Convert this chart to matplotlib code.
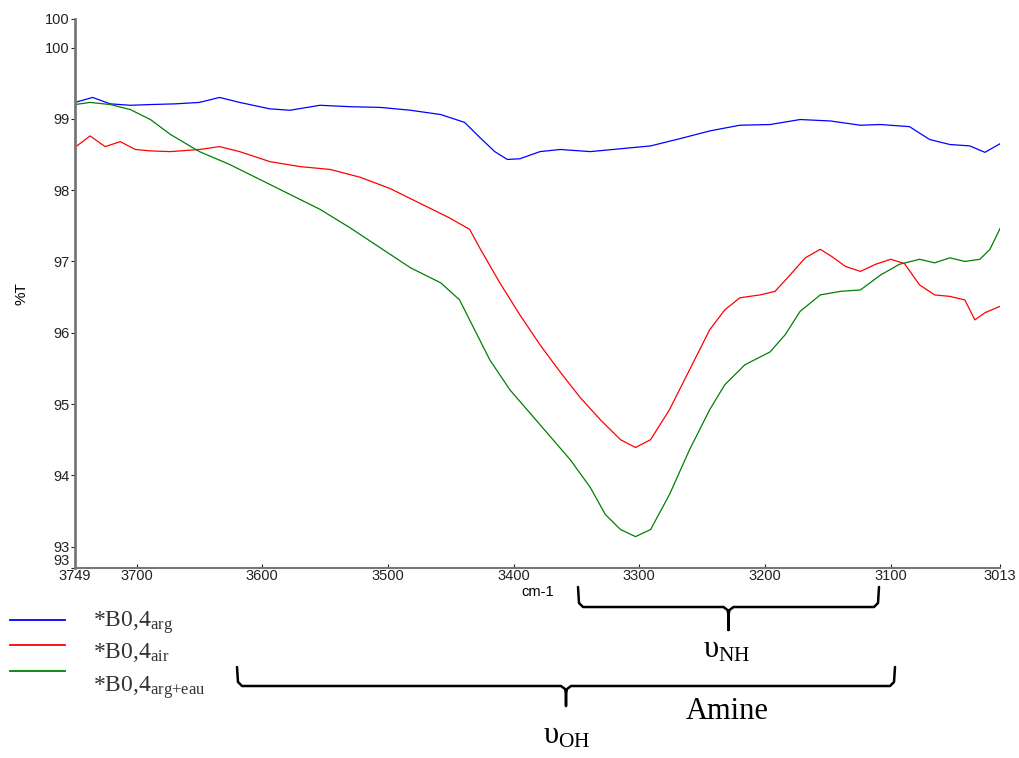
"Spectre IR - B0,4 (arg / air / arg+eau)"

import matplotlib
matplotlib.use('Agg')
import matplotlib.pyplot as plt

plt.rcParams['font.family'] = ['Liberation Sans', 'DejaVu Sans']
plt.rcParams['mathtext.fontset'] = 'custom'
plt.rcParams['mathtext.rm'] = 'Liberation Serif'
plt.rcParams['mathtext.it'] = 'Liberation Serif:italic'

nu_arg = [3749, 3735, 3721, 3705, 3689, 3669, 3650, 3634, 3618, 3594, 3578, 3554, 3530,
          3506, 3482, 3458, 3439, 3427, 3415, 3405, 3395, 3379, 3363, 3339, 3315, 3291,
          3268, 3244, 3220, 3196, 3172, 3148, 3124, 3108, 3085, 3069, 3053, 3037, 3025, 3013]
T_arg = [99.23, 99.30, 99.21, 99.19, 99.20, 99.21, 99.23, 99.30, 99.23, 99.14, 99.12, 99.19, 99.17,
         99.16, 99.12, 99.06, 98.95, 98.74, 98.54, 98.43, 98.44, 98.54, 98.57, 98.54, 98.58, 98.62,
         98.72, 98.83, 98.91, 98.92, 98.99, 98.97, 98.91, 98.92, 98.89, 98.71, 98.64, 98.62, 98.53, 98.65]

nu_air = [3749, 3737, 3725, 3713, 3701, 3689, 3673, 3650, 3634, 3618, 3594, 3570, 3546, 3522,
          3498, 3482, 3467, 3451, 3435, 3427, 3411, 3395, 3379, 3363, 3347, 3331, 3315, 3303,
          3291, 3276, 3260, 3244, 3232, 3220, 3204, 3192, 3180, 3168, 3156, 3147, 3136, 3124,
          3112, 3100, 3089, 3077, 3065, 3053, 3041, 3033, 3025, 3013]
T_air = [98.60, 98.76, 98.61, 98.68, 98.57, 98.55, 98.54, 98.57, 98.61, 98.54, 98.40, 98.33, 98.29, 98.18,
         98.02, 97.88, 97.75, 97.61, 97.45, 97.19, 96.70, 96.25, 95.83, 95.45, 95.09, 94.78, 94.50, 94.39,
         94.50, 94.92, 95.48, 96.04, 96.32, 96.49, 96.53, 96.58, 96.81, 97.05, 97.17, 97.07, 96.93, 96.86,
         96.96, 97.03, 96.97, 96.67, 96.53, 96.51, 96.46, 96.18, 96.28, 96.37]

nu_eau = [3749, 3737, 3721, 3705, 3689, 3673, 3650, 3626, 3602, 3578, 3554, 3530, 3506, 3482,
          3458, 3443, 3435, 3419, 3403, 3379, 3355, 3339, 3327, 3315, 3303, 3291, 3276, 3260,
          3244, 3232, 3216, 3196, 3184, 3172, 3156, 3140, 3124, 3108, 3093, 3077, 3065, 3053,
          3041, 3029, 3021, 3013]
T_eau = [99.20, 99.23, 99.20, 99.13, 98.99, 98.78, 98.54, 98.36, 98.15, 97.94, 97.73, 97.47, 97.19, 96.91,
         96.70, 96.46, 96.18, 95.62, 95.20, 94.71, 94.22, 93.83, 93.45, 93.24, 93.14, 93.24, 93.73, 94.36,
         94.92, 95.27, 95.55, 95.73, 95.97, 96.30, 96.53, 96.58, 96.60, 96.81, 96.96, 97.03, 96.98, 97.05,
         97.00, 97.03, 97.17, 97.46]

xticks = [3749, 3700, 3600, 3500, 3400, 3300, 3200, 3100, 3013]
yticks = [92.7, 93, 94, 95, 96, 97, 98, 99, 100, 100.4]
ylabels = ['93', '93', '94', '95', '96', '97', '98', '99', '100', '100']

series = [
    (nu_arg, T_arg, 'blue', r'$\mathrm{*B0{,}4}_{\mathrm{arg}}$'),
    (nu_air, T_air, 'red', r'$\mathrm{*B0{,}4}_{\mathrm{air}}$'),
    (nu_eau, T_eau, 'green', r'$\mathrm{*B0{,}4}_{\mathrm{arg{+}eau}}$'),
]

fig = plt.figure(figsize=(10.19, 7.58), dpi=100)
ax = fig.add_axes([75 / 1019, 1 - 568 / 758, 925 / 1019, 549 / 758])

for nu, T, c, lab in series:
    ax.plot(nu, T, color=c, lw=0.9)

ax.set_xlim(3749, 3013)
ax.set_ylim(92.7, 100.4)
ax.set_xticks(xticks)
ax.set_xticklabels([str(v) for v in xticks])
ax.set_yticks(yticks)
ax.set_yticklabels(ylabels)
ax.tick_params(labelsize=10.5, colors='#222222', length=3, width=0.8, pad=1)
ax.tick_params(axis='x', direction='in', pad=1)
# le "93" du bas est légèrement remonté, comme sur l'original
ax.get_yticklabels()[0].set_verticalalignment('bottom')
for s in ['top', 'right']:
    ax.spines[s].set_visible(False)
for s in ['left', 'bottom']:
    ax.spines[s].set_color('#777777')
ax.spines['left'].set_linewidth(2)
ax.spines['bottom'].set_linewidth(1.5)
ax.set_xlabel('cm-1', fontsize=10.5, labelpad=1)
ax.set_ylabel('%T', fontsize=11, labelpad=12)

# Légende et accolades (coordonnées en pixels)
ov = fig.add_axes([0, 0, 1, 1])
ov.set_xlim(0, 1019)
ov.set_ylim(758, 0)
ov.axis('off')

leg_y = [620, 645, 671]
txt_y = [627, 658, 692]
for (nu, T, c, lab), ly, ty in zip(series, leg_y, txt_y):
    ov.plot([10, 65], [ly, ly], color=c, lw=1.3)
    ov.text(93, ty, lab, fontsize=17, color='#333333', ha='left', va='baseline')


def accolade(x0, x1, ytop, yh, ytip):
    xm = (x0 + x1) / 2
    xs = [x0, x0 + 1, x0 + 5, xm - 5, xm - 1, xm, xm, xm, xm + 1, xm + 5, x1 - 5, x1 - 1, x1]
    ys = [ytop, yh - 4, yh, yh, yh + 3, yh + 8, ytip, yh + 8, yh + 3, yh, yh, yh - 4, ytop]
    ov.plot(xs, ys, color='black', lw=1.8, solid_capstyle='round', solid_joinstyle='round')


accolade(578, 879, 587, 607, 630)
accolade(237, 895, 667, 686, 706)

ov.text(703, 657, r'$\mathrm{υ}_{\mathrm{NH}}$', fontsize=22, ha='left', va='baseline')
ov.text(686, 719, 'Amine', family='Liberation Serif', fontsize=22, ha='left', va='baseline')
ov.text(543, 744, r'$\mathrm{υ}_{\mathrm{OH}}$', fontsize=22, ha='left', va='baseline')

fig.savefig('out.png', dpi=100)
